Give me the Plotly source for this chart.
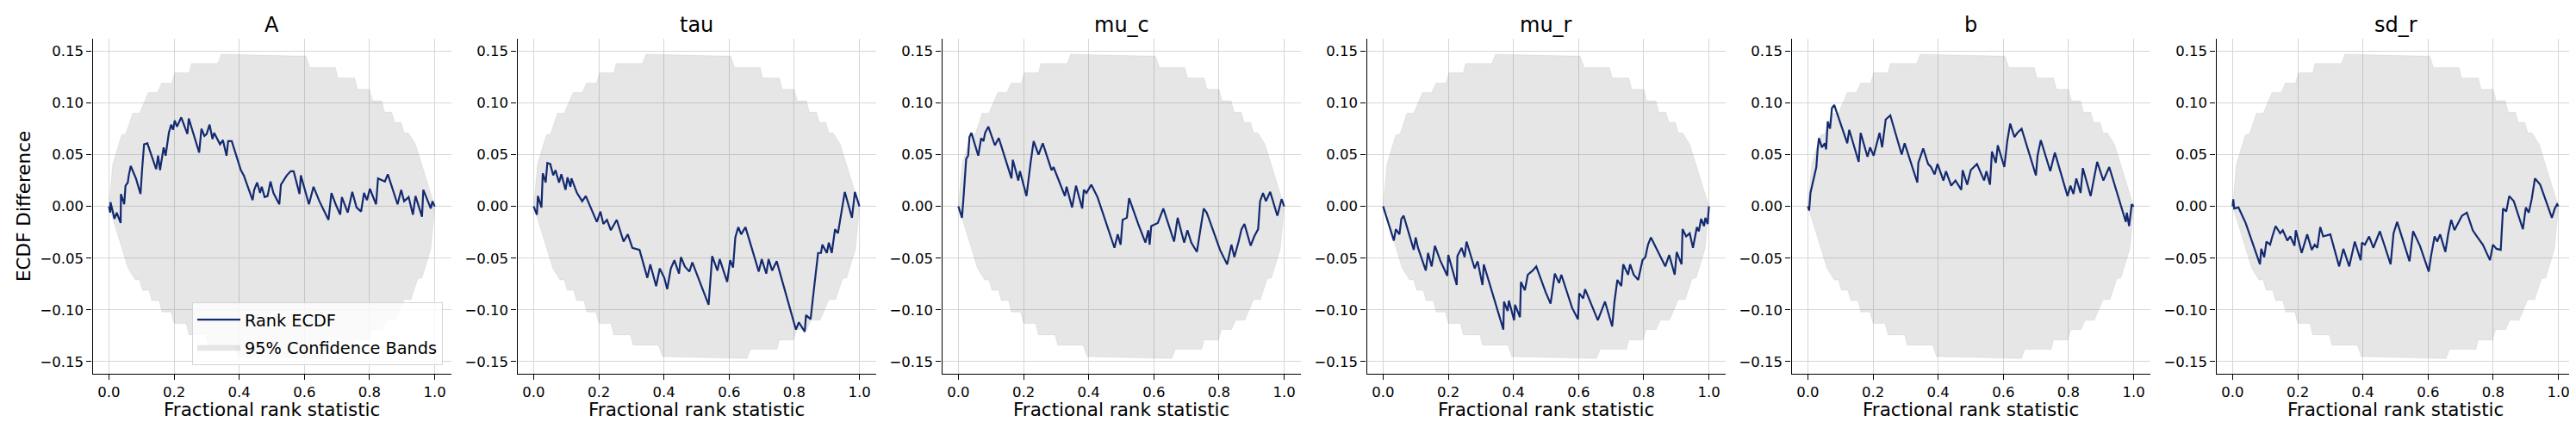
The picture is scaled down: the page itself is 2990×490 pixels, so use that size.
import plotly.graph_objects as go

# ---------------- data ----------------
titles = ["A", "tau", "mu_c", "mu_r", "b", "sd_r"]

band_upper_x = [0.000, 0.012, 0.039, 0.052, 0.073, 0.094, 0.121, 0.149, 0.162, 0.193,
                0.202, 0.246, 0.253, 0.334, 0.345, 0.605, 0.617, 0.695, 0.703, 0.754,
                0.763, 0.800, 0.809, 0.837, 0.846, 0.868, 0.877, 0.897, 0.906, 0.919,
                0.941, 0.990, 1.000]
band_upper_y = [0.000, 0.041, 0.069, 0.070, 0.090, 0.090, 0.110, 0.110, 0.119, 0.119,
                0.129, 0.129, 0.138, 0.138, 0.147, 0.145, 0.134, 0.134, 0.124, 0.124,
                0.113, 0.113, 0.102, 0.102, 0.091, 0.091, 0.081, 0.081, 0.071, 0.071,
                0.060, 0.010, 0.000]
band_lower_x = [0.000, 0.010, 0.059, 0.081, 0.094, 0.103, 0.123, 0.132, 0.154, 0.163,
                0.191, 0.200, 0.237, 0.246, 0.297, 0.305, 0.383, 0.395, 0.655, 0.666,
                0.747, 0.754, 0.798, 0.807, 0.838, 0.851, 0.879, 0.906, 0.927, 0.948,
                0.961, 0.988, 1.000]
band_lower_y = [0.000, -0.010, -0.060, -0.071, -0.071, -0.081, -0.081, -0.091, -0.091, -0.102,
                -0.102, -0.113, -0.113, -0.124, -0.124, -0.134, -0.134, -0.145, -0.147, -0.138,
                -0.138, -0.129, -0.129, -0.119, -0.119, -0.110, -0.110, -0.090, -0.090, -0.070,
                -0.069, -0.041, 0.000]

A_x = [0.000, 0.004, 0.005, 0.017, 0.024, 0.036, 0.037, 0.047, 0.051, 0.058,
       0.061, 0.067, 0.083, 0.097, 0.102, 0.108, 0.118, 0.145, 0.151, 0.157,
       0.168, 0.174, 0.184, 0.191, 0.197, 0.202, 0.209, 0.222, 0.241, 0.245,
       0.277, 0.284, 0.293, 0.300, 0.309, 0.318, 0.323, 0.341, 0.350, 0.361,
       0.366, 0.377, 0.405, 0.414, 0.441, 0.446, 0.455, 0.464, 0.469, 0.478,
       0.487, 0.496, 0.505, 0.523, 0.528, 0.546, 0.558, 0.567, 0.585, 0.589,
       0.614, 0.628, 0.646, 0.674, 0.683, 0.696, 0.710, 0.715, 0.733, 0.747,
       0.760, 0.774, 0.783, 0.792, 0.801, 0.820, 0.826, 0.838, 0.847, 0.856,
       0.886, 0.897, 0.906, 0.920, 0.933, 0.941, 0.961, 0.965, 0.984, 0.988,
       0.993, 1.000]
A_y = [0.000, -0.006, 0.004, -0.012, -0.006, -0.016, 0.012, 0.002, 0.020, 0.023,
       0.030, 0.039, 0.027, 0.012, 0.036, 0.060, 0.061, 0.036, 0.049, 0.035,
       0.057, 0.049, 0.071, 0.079, 0.074, 0.083, 0.077, 0.086, 0.070, 0.085,
       0.052, 0.075, 0.068, 0.070, 0.079, 0.065, 0.071, 0.060, 0.064, 0.049,
       0.063, 0.063, 0.035, 0.030, 0.006, 0.016, 0.023, 0.013, 0.019, 0.009,
       0.010, 0.024, 0.013, 0.002, 0.021, 0.030, 0.034, 0.034, 0.012, 0.030,
       0.002, 0.019, 0.005, -0.013, 0.013, 0.002, -0.008, 0.009, -0.006, 0.014,
       -0.001, -0.005, 0.013, 0.006, 0.017, 0.002, 0.027, 0.025, 0.024, 0.031,
       0.002, 0.016, 0.005, 0.009, -0.008, 0.010, -0.010, 0.016, 0.002, -0.002,
       0.005, 0.000]

tau_x = [0.000, 0.010, 0.013, 0.024, 0.028, 0.037, 0.042, 0.051, 0.060, 0.067,
         0.078, 0.085, 0.098, 0.104, 0.113, 0.116, 0.133, 0.149, 0.160, 0.194,
         0.205, 0.214, 0.225, 0.237, 0.255, 0.276, 0.289, 0.303, 0.325, 0.349,
         0.358, 0.376, 0.387, 0.401, 0.410, 0.421, 0.432, 0.446, 0.452, 0.464,
         0.478, 0.487, 0.537, 0.548, 0.564, 0.571, 0.594, 0.603, 0.612, 0.619,
         0.628, 0.637, 0.650, 0.691, 0.700, 0.714, 0.721, 0.732, 0.746, 0.805,
         0.814, 0.832, 0.836, 0.850, 0.857, 0.866, 0.873, 0.882, 0.886, 0.900,
         0.906, 0.915, 0.925, 0.934, 0.939, 0.945, 0.955, 0.977, 0.986, 1.000]
tau_y = [0.000, -0.008, 0.010, -0.001, 0.032, 0.023, 0.042, 0.041, 0.030, 0.035,
         0.023, 0.031, 0.016, 0.028, 0.019, 0.027, 0.013, 0.005, 0.010, -0.015,
         -0.005, -0.017, -0.013, -0.023, -0.013, -0.034, -0.027, -0.040, -0.042, -0.069,
         -0.056, -0.077, -0.060, -0.069, -0.080, -0.060, -0.052, -0.065, -0.049, -0.058,
         -0.063, -0.054, -0.095, -0.048, -0.062, -0.051, -0.073, -0.052, -0.059, -0.030,
         -0.020, -0.027, -0.020, -0.063, -0.051, -0.065, -0.051, -0.062, -0.053, -0.119,
         -0.112, -0.121, -0.105, -0.109, -0.089, -0.067, -0.045, -0.045, -0.037, -0.045,
         -0.035, -0.045, -0.022, -0.026, -0.015, -0.005, 0.014, -0.011, 0.014, 0.000]

mu_c_x = [0.000, 0.011, 0.015, 0.020, 0.024, 0.030, 0.034, 0.040, 0.061, 0.070,
          0.077, 0.082, 0.092, 0.112, 0.124, 0.163, 0.167, 0.184, 0.189, 0.209,
          0.217, 0.222, 0.231, 0.246, 0.259, 0.286, 0.292, 0.327, 0.332, 0.349,
          0.361, 0.380, 0.385, 0.393, 0.408, 0.427, 0.479, 0.489, 0.498, 0.504,
          0.517, 0.524, 0.552, 0.574, 0.583, 0.587, 0.592, 0.612, 0.629, 0.662,
          0.673, 0.693, 0.703, 0.715, 0.732, 0.753, 0.762, 0.768, 0.803, 0.825,
          0.838, 0.847, 0.860, 0.869, 0.878, 0.897, 0.908, 0.920, 0.926, 0.935,
          0.944, 0.957, 0.979, 0.992, 1.000]
mu_c_y = [0.000, -0.011, 0.005, 0.030, 0.046, 0.049, 0.067, 0.071, 0.049, 0.066,
          0.063, 0.071, 0.077, 0.059, 0.066, 0.027, 0.045, 0.025, 0.034, 0.010,
          0.032, 0.043, 0.063, 0.050, 0.061, 0.035, 0.038, 0.010, 0.019, -0.001,
          0.020, -0.002, 0.016, 0.013, 0.021, 0.009, -0.040, -0.027, -0.037, -0.013,
          -0.011, 0.008, -0.017, -0.035, -0.023, -0.037, -0.019, -0.016, -0.002, -0.034,
          -0.011, -0.035, -0.023, -0.035, -0.044, -0.002, -0.006, -0.011, -0.042, -0.056,
          -0.037, -0.049, -0.034, -0.022, -0.017, -0.038, -0.029, -0.022, 0.005, 0.013,
          0.005, 0.014, -0.009, 0.007, 0.000]

mu_r_x = [0.000, 0.033, 0.039, 0.050, 0.056, 0.063, 0.094, 0.100, 0.107, 0.131,
          0.138, 0.149, 0.159, 0.175, 0.197, 0.200, 0.226, 0.228, 0.241, 0.250,
          0.256, 0.281, 0.290, 0.305, 0.309, 0.369, 0.371, 0.382, 0.386, 0.402,
          0.405, 0.420, 0.423, 0.435, 0.444, 0.459, 0.470, 0.499, 0.514, 0.527,
          0.540, 0.547, 0.580, 0.598, 0.602, 0.614, 0.620, 0.659, 0.681, 0.703,
          0.710, 0.719, 0.731, 0.737, 0.752, 0.758, 0.769, 0.783, 0.796, 0.805,
          0.813, 0.822, 0.844, 0.866, 0.878, 0.895, 0.901, 0.916, 0.919, 0.930,
          0.941, 0.951, 0.963, 0.969, 0.976, 0.985, 0.989, 0.996, 1.000]
mu_r_y = [0.000, -0.033, -0.022, -0.027, -0.012, -0.009, -0.042, -0.030, -0.040, -0.062,
          -0.045, -0.058, -0.038, -0.052, -0.067, -0.047, -0.076, -0.048, -0.040, -0.049,
          -0.034, -0.060, -0.053, -0.076, -0.056, -0.119, -0.092, -0.101, -0.091, -0.110,
          -0.095, -0.107, -0.073, -0.081, -0.066, -0.062, -0.058, -0.083, -0.094, -0.065,
          -0.074, -0.066, -0.098, -0.109, -0.084, -0.089, -0.080, -0.110, -0.092, -0.116,
          -0.092, -0.071, -0.077, -0.056, -0.066, -0.056, -0.066, -0.071, -0.052, -0.049,
          -0.037, -0.030, -0.044, -0.058, -0.047, -0.066, -0.044, -0.056, -0.022, -0.029,
          -0.026, -0.040, -0.020, -0.024, -0.012, -0.019, -0.011, -0.017, 0.000]

b_x = [0.000, 0.004, 0.008, 0.017, 0.026, 0.030, 0.034, 0.043, 0.052, 0.056,
       0.061, 0.068, 0.074, 0.081, 0.121, 0.127, 0.156, 0.162, 0.183, 0.191,
       0.202, 0.220, 0.228, 0.239, 0.253, 0.288, 0.297, 0.336, 0.339, 0.354,
       0.369, 0.378, 0.389, 0.398, 0.416, 0.424, 0.440, 0.453, 0.471, 0.475,
       0.489, 0.500, 0.511, 0.519, 0.541, 0.548, 0.559, 0.565, 0.577, 0.583,
       0.603, 0.612, 0.621, 0.634, 0.643, 0.656, 0.700, 0.705, 0.715, 0.744,
       0.758, 0.797, 0.806, 0.815, 0.824, 0.837, 0.844, 0.868, 0.877, 0.888,
       0.907, 0.925, 0.976, 0.979, 0.986, 0.994, 1.000]
b_y = [0.000, -0.004, 0.013, 0.027, 0.038, 0.055, 0.066, 0.057, 0.061, 0.055,
       0.082, 0.075, 0.095, 0.098, 0.061, 0.074, 0.043, 0.071, 0.048, 0.057,
       0.049, 0.071, 0.057, 0.084, 0.088, 0.050, 0.061, 0.023, 0.042, 0.056,
       0.041, 0.038, 0.031, 0.041, 0.025, 0.034, 0.020, 0.025, 0.016, 0.035,
       0.021, 0.035, 0.039, 0.041, 0.025, 0.034, 0.021, 0.053, 0.042, 0.059,
       0.038, 0.063, 0.080, 0.067, 0.071, 0.075, 0.030, 0.049, 0.064, 0.034,
       0.052, 0.010, 0.020, 0.012, 0.027, 0.013, 0.037, 0.010, 0.025, 0.043,
       0.025, 0.038, -0.015, -0.006, -0.019, 0.002, 0.000]

sd_r_x = [0.000, 0.002, 0.005, 0.018, 0.040, 0.084, 0.088, 0.097, 0.104, 0.115,
          0.122, 0.132, 0.146, 0.154, 0.168, 0.177, 0.190, 0.194, 0.212, 0.229,
          0.243, 0.252, 0.260, 0.269, 0.278, 0.300, 0.327, 0.340, 0.358, 0.375,
          0.393, 0.397, 0.406, 0.419, 0.432, 0.452, 0.485, 0.494, 0.505, 0.543,
          0.554, 0.575, 0.602, 0.609, 0.620, 0.628, 0.637, 0.653, 0.662, 0.671,
          0.681, 0.693, 0.704, 0.719, 0.737, 0.750, 0.768, 0.790, 0.799, 0.810,
          0.823, 0.830, 0.840, 0.849, 0.863, 0.891, 0.900, 0.909, 0.918, 0.928,
          0.944, 0.980, 0.989, 0.996, 1.000]
sd_r_y = [0.000, 0.007, -0.002, -0.001, -0.016, -0.056, -0.041, -0.049, -0.034, -0.037,
          -0.029, -0.019, -0.026, -0.023, -0.033, -0.029, -0.038, -0.023, -0.045, -0.027,
          -0.042, -0.037, -0.040, -0.020, -0.029, -0.027, -0.058, -0.041, -0.058, -0.034,
          -0.052, -0.035, -0.037, -0.029, -0.040, -0.024, -0.056, -0.026, -0.015, -0.053,
          -0.024, -0.038, -0.063, -0.048, -0.029, -0.034, -0.027, -0.044, -0.026, -0.013,
          -0.023, -0.015, -0.009, -0.006, -0.023, -0.029, -0.037, -0.052, -0.037, -0.041,
          -0.042, -0.002, -0.005, 0.010, 0.005, -0.022, -0.001, -0.006, 0.007, 0.027,
          0.021, -0.011, -0.002, 0.002, 0.000]

x_ticks = [0.0, 0.2, 0.4, 0.6, 0.8, 1.0]
y_ticks = [-0.15, -0.10, -0.05, 0.0, 0.05, 0.10, 0.15]

# ---------------- figure ----------------
W, H = 2990, 490
FONT = "DejaVu Sans"
LINE_COLOR = "#132a70"
BAND_COLOR = "rgba(128,128,128,0.2)"

series = [(A_x, A_y), (tau_x, tau_y), (mu_c_x, mu_c_y),
          (mu_r_x, mu_r_y), (b_x, b_y), (sd_r_x, sd_r_y)]

band_x = band_upper_x + band_lower_x[::-1]
band_y = band_upper_y + band_lower_y[::-1]

lefts = [99.5 + 493.0 * i for i in range(6)]
pw = 416.0
ytop, ybot = 37.3, 426.0
ydom = [1 - ybot / H, 1 - ytop / H]

fig = go.Figure()
annotations = []
layout = dict(
    width=W, height=H,
    margin=dict(l=0, r=0, t=0, b=0),
    paper_bgcolor="white", plot_bgcolor="white",
    font=dict(family=FONT, color="black"),
    showlegend=True,
    legend=dict(
        x=506 / W, y=1 - 416 / H, xanchor="right", yanchor="bottom",
        bgcolor="rgba(255,255,255,0.8)", bordercolor="#d4d4d4", borderwidth=1,
        font=dict(family=FONT, size=19.3, color="black"),
        tracegroupgap=4, itemwidth=50,
    ),
)

for i, (title, (xs, ys)) in enumerate(zip(titles, series)):
    sfx = "" if i == 0 else str(i + 1)
    xa, ya = "x" + sfx, "y" + sfx
    fig.add_trace(go.Scatter(
        x=band_x, y=band_y, mode="lines", fill="toself",
        fillcolor=BAND_COLOR, line=dict(color="rgba(128,128,128,0.15)", width=0.8),
        name="95% Confidence Bands", legendgroup="band", legendrank=2,
        showlegend=(i == 0), xaxis=xa, yaxis=ya, hoverinfo="skip"))
    fig.add_trace(go.Scatter(
        x=xs, y=ys, mode="lines", line=dict(color=LINE_COLOR, width=2.2),
        name="Rank ECDF", legendgroup="line", legendrank=1,
        showlegend=(i == 0), xaxis=xa, yaxis=ya))

    x0 = lefts[i] / W
    x1 = (lefts[i] + pw) / W
    common = dict(showgrid=True, gridcolor="#d6d6d6", gridwidth=1,
                  zeroline=False, showline=True, linecolor="black", linewidth=1.4,
                  mirror=False, ticks="outside", ticklen=6, tickwidth=1.3,
                  tickcolor="black",
                  tickfont=dict(family=FONT, size=16.5, color="black"))
    layout["xaxis" + sfx] = dict(
        domain=[x0, x1], range=[-0.05, 1.05], anchor=ya,
        tickvals=x_ticks, tickformat=".1f", **common)
    layout["yaxis" + sfx] = dict(
        domain=ydom, range=[-0.1617, 0.1617], anchor=xa,
        tickvals=y_ticks, tickformat=".2f", **common)

    cx = (x0 + x1) / 2
    annotations.append(dict(text=title, x=cx, y=1 - 21 / H, xref="paper", yref="paper",
                            xanchor="center", yanchor="middle", showarrow=False,
                            font=dict(family=FONT, size=24, color="black")))
    annotations.append(dict(text="Fractional rank statistic", x=cx, y=1 - 467 / H,
                            xref="paper", yref="paper", xanchor="center",
                            yanchor="middle", showarrow=False,
                            font=dict(family=FONT, size=21.5, color="black")))

annotations.append(dict(text="ECDF Difference", x=19 / W, y=1 - 232 / H,
                        xref="paper", yref="paper", xanchor="center", yanchor="middle",
                        textangle=-90, showarrow=False,
                        font=dict(family=FONT, size=21.5, color="black")))
layout["annotations"] = annotations

fig.update_layout(**layout)
fig.write_html("out.html")
